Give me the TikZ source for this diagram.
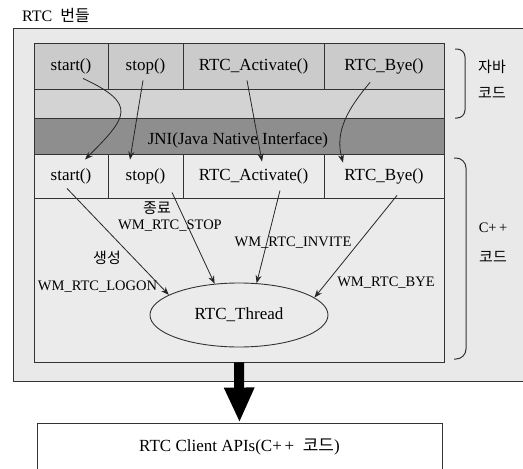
\documentclass[tikz,border=0pt]{standalone}
\usepackage{fontspec}
\setmainfont{Liberation Serif}
\newfontfamily\krfont{Noto Sans CJK KR}
\usetikzlibrary{shapes.geometric, arrows.meta}
\definecolor{bundlegray}{HTML}{E9E9E9}
\definecolor{javagray}{HTML}{CBCBCB}
\definecolor{javarow}{HTML}{D3D3D3}
\definecolor{jnigray}{HTML}{8E8E8E}
\definecolor{cppgray}{HTML}{EBEBEB}
\definecolor{linegray}{HTML}{333333}

\tikzset{
  cell/.style={rectangle, draw=linegray, line width=0.9pt, inner sep=0pt, font=\fontsize{17}{19}\selectfont},
  msg/.style={inner sep=1pt, font=\fontsize{14.5}{16}\selectfont},
  krmsg/.style={inner sep=1pt, font=\krfont\fontsize{15}{17}\selectfont},
  call/.style={-{Stealth[length=8pt,width=6pt]}, line width=0.8pt, draw=black!85},
  bracket/.style={line width=1pt, draw=linegray}
}

\begin{document}
\begin{tikzpicture}[x=1pt, y=-1pt]
\useasboundingbox (0,0) rectangle (523,469);

% RTC bundle
\node[rectangle, draw=linegray, line width=0.9pt, fill=bundlegray, minimum width=520pt, minimum height=353pt, anchor=north west, inner sep=0pt] (bundle) at (13,28) {};
\node[anchor=west, inner sep=0pt, font=\fontsize{16}{18}\selectfont] (title) at (22,15) {RTC\ \ {\krfont 번들}};

% Java side
\node[cell, fill=javagray, minimum width=74pt, minimum height=46pt] (jstart) at (71,66) {start()};
\node[cell, fill=javagray, minimum width=75pt, minimum height=46pt] (jstop) at (145.5,66) {stop()};
\node[cell, fill=javagray, minimum width=141pt, minimum height=46pt] (jact) at (253.5,66) {RTC\_Activate()};
\node[cell, fill=javagray, minimum width=120pt, minimum height=46pt] (jbye) at (384,66) {RTC\_Bye()};
\node[cell, fill=javarow, minimum width=410pt, minimum height=29pt] (jrow) at (239,103.5) {};

% JNI
\node[cell, fill=jnigray, minimum width=410pt, minimum height=36pt] (jni) at (239,136) {};
\node[inner sep=0pt, font=\fontsize{17}{19}\selectfont] (jnilabel) at (238,140) {JNI(Java Native Interface)};

% C++ side
\node[cell, fill=cppgray, minimum width=74pt, minimum height=44pt] (cstart) at (71,176) {start()};
\node[cell, fill=cppgray, minimum width=75pt, minimum height=44pt] (cstop) at (145.5,176) {stop()};
\node[cell, fill=cppgray, minimum width=141pt, minimum height=44pt] (cact) at (253.5,176) {RTC\_Activate()};
\node[cell, fill=cppgray, minimum width=120pt, minimum height=44pt] (cbye) at (384,176) {RTC\_Bye()};
\node[cell, fill=cppgray, minimum width=410pt, minimum height=164pt] (cpparea) at (239,280) {};
\node[ellipse, draw=linegray, line width=0.9pt, fill=cppgray, minimum width=178pt, minimum height=64pt, inner sep=0pt, font=\fontsize{17}{19}\selectfont] (thread) at (239,315) {RTC\_Thread};

% Java -> C++ calls
\draw[call] ([xshift=12pt,yshift=11pt]jstart.south) to[out=-25, in=45, looseness=1.9] ([xshift=14pt,yshift=-6pt]cstart.north);
\draw[call] ([xshift=-2.5pt,yshift=9pt]jstop.south) -- ([xshift=-15.5pt,yshift=-6pt]cstop.north);
\draw[call] ([xshift=-6.5pt,yshift=9pt]jact.south) -- ([xshift=8.5pt,yshift=-8pt]cact.north);
\draw[call] ([xshift=-14pt,yshift=7pt]jbye.south) to[out=-130, in=105] ([xshift=-41pt,yshift=-9pt]cbye.north);

% messages to the thread
\draw[call] ([xshift=-4pt,yshift=10pt]cstart.south) -- (thread.164);
\draw[call] ([xshift=26.5pt,yshift=6pt]cstop.south) -- (thread.128);
\draw[call] ([xshift=26.5pt,yshift=8pt]cact.south) -- (thread.61);
\draw[call] ([xshift=13pt,yshift=3pt]cbye.south) -- (thread.13);

\node[krmsg] (endlbl) at (157,208) {종료};
\node[msg] (stoplbl) at (170,226) {WM\_RTC\_STOP};
\node[krmsg] (newlbl) at (107,258) {생성};
\node[msg] (logonlbl) at (97.5,287) {WM\_RTC\_LOGON};
\node[msg] (invitelbl) at (293,243) {WM\_RTC\_INVITE};
\node[msg] (byelbl) at (386,283) {WM\_RTC\_BYE};

% brackets
\draw[bracket, rounded corners=8pt] (455,49) -- (465,49) -- (465,118) -- (455,118);
\draw[bracket, rounded corners=10pt] (454,158) -- (466,158) -- (466,359) -- (454,359);
\node[krmsg] (javalbl) at (492,67) {자바};
\node[krmsg] (javacode) at (492,93) {코드};
\node[msg] (cpplbl) at (493,228) {C+\,+};
\node[krmsg] (cppcode) at (493,257) {코드};

% client APIs
\node[rectangle, draw=linegray, line width=0.9pt, fill=white, minimum width=405pt, minimum height=48pt, font=\fontsize{17}{19}\selectfont] (apis) at (239.5,447) {RTC Client APIs(C+\,+ \ {\krfont 코드})};
\draw[line width=10pt, -{Triangle[length=35pt,width=28pt]}] (cpparea.south) -- (apis.north);

\end{tikzpicture}
\end{document}
